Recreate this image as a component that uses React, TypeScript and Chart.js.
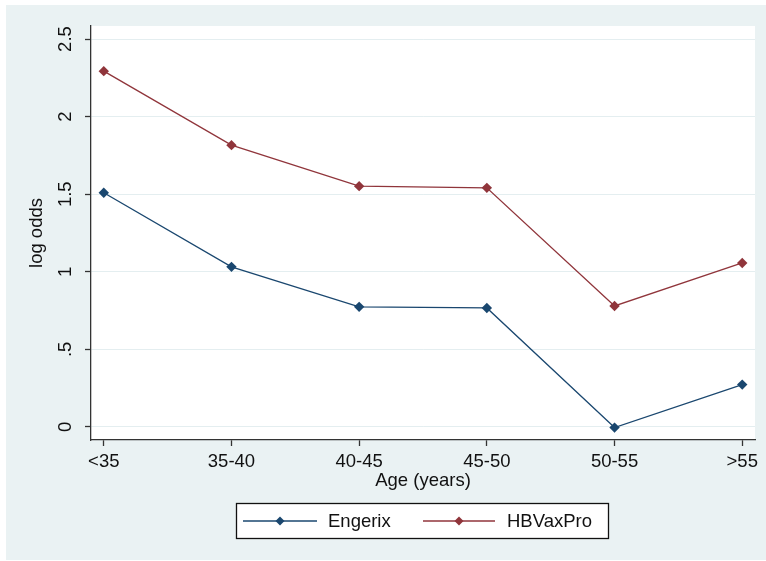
import React, { useEffect, useRef } from "react";
import { Chart, registerables } from "chart.js";
Chart.register(...registerables);

const ageGroups = ["<35", "35-40", "40-45", "45-50", "50-55", ">55"];
const engerix = [1.509, 1.032, 0.774, 0.767, -0.004, 0.273];
const hbvaxpro = [2.293, 1.816, 1.552, 1.541, 0.78, 1.057];
const yTickValues = [0, 0.5, 1, 1.5, 2, 2.5];
const yTickLabels = ["0", ".5", "1", "1.5", "2", "2.5"];
const seriesNames = ["Engerix", "HBVaxPro"];
const seriesColors = ["#1a476f", "#90353b"];

const FONT = "'Liberation Sans', Arial, sans-serif";
const TEXT = "#111111";
const BG = "#eaf2f3";

function diamond(ctx: CanvasRenderingContext2D, x: number, y: number, r: number, color: string) {
  ctx.beginPath();
  ctx.moveTo(x, y - r);
  ctx.lineTo(x + r, y);
  ctx.lineTo(x, y + r);
  ctx.lineTo(x - r, y);
  ctx.closePath();
  ctx.fillStyle = color;
  ctx.fill();
}

const stataPlugin = {
  id: "stataFrame",
  beforeDraw(chart: any) {
    const { ctx, chartArea: a } = chart;
    ctx.save();
    ctx.fillStyle = "#ffffff";
    ctx.fillRect(0, 0, chart.width, chart.height);
    ctx.fillStyle = BG;
    ctx.fillRect(6, 5, chart.width - 6, chart.height - 6);
    ctx.fillStyle = "#ffffff";
    ctx.fillRect(a.left, a.top, a.right - a.left, a.bottom - a.top);
    ctx.restore();
  },
  afterDraw(chart: any) {
    const { ctx } = chart;
    ctx.save();
    const bx = 236.5, by = 503.5, bw = 372, bh = 35;
    ctx.fillStyle = "#ffffff";
    ctx.fillRect(bx, by, bw, bh);
    ctx.strokeStyle = "#111111";
    ctx.lineWidth = 1.3;
    ctx.strokeRect(bx, by, bw, bh);
    const cy = by + bh / 2;
    const items = [
      { x0: 243, x1: 317, text: 328 },
      { x0: 423, x1: 495, text: 507 },
    ];
    items.forEach((it, i) => {
      ctx.strokeStyle = seriesColors[i];
      ctx.lineWidth = 1.3;
      ctx.beginPath();
      ctx.moveTo(it.x0, cy);
      ctx.lineTo(it.x1, cy);
      ctx.stroke();
      diamond(ctx, (it.x0 + it.x1) / 2, cy, 4.5, seriesColors[i]);
      ctx.fillStyle = TEXT;
      ctx.font = `18.5px ${FONT}`;
      ctx.textBaseline = "middle";
      ctx.textAlign = "left";
      ctx.fillText(seriesNames[i], it.text, cy + 1);
    });
    ctx.restore();
  },
};

export default function App() {
  const ref = useRef<HTMLCanvasElement | null>(null);
  useEffect(() => {
    const canvas = ref.current;
    if (!canvas) return;
    const mk = (vals: number[], i: number) => ({
      label: seriesNames[i],
      data: vals.map((v, k) => ({ x: k, y: v })),
      borderColor: seriesColors[i],
      backgroundColor: seriesColors[i],
      borderWidth: 1.3,
      pointStyle: "rectRot" as const,
      pointRadius: 5.2,
      pointBorderWidth: 0,
      pointBackgroundColor: seriesColors[i],
      tension: 0,
    });
    const chart = new Chart(canvas, {
      type: "line",
      data: { datasets: [mk(engerix, 0), mk(hbvaxpro, 1)] },
      options: {
        responsive: false,
        animation: false,
        devicePixelRatio: 1,
        layout: { padding: { top: 26, right: 11, left: 0, bottom: 0 } },
        plugins: { legend: { display: false }, tooltip: { enabled: false } },
        scales: {
          x: {
            type: "linear",
            min: -0.1,
            max: 5.1,
            afterFit: (s: any) => { s.height = 121; },
            afterBuildTicks: (s: any) => { s.ticks = ageGroups.map((_, k) => ({ value: k })); },
            grid: { drawOnChartArea: false, drawTicks: true, tickLength: 6, tickColor: "#333333", tickWidth: 1.3 },
            border: { color: "#333333", width: 1.3 },
            ticks: {
              autoSkip: false,
              maxRotation: 0,
              minRotation: 0,
              padding: 5,
              color: TEXT,
              font: { family: FONT, size: 18.5 },
              callback: (v: any) => ageGroups[Math.round(Number(v))] ?? "",
            },
            title: {
              display: true,
              text: "Age (years)",
              color: TEXT,
              font: { family: FONT, size: 18.5 },
              padding: { top: 0, bottom: 69 },
            },
          },
          y: {
            type: "linear",
            min: -0.084,
            max: 2.584,
            afterFit: (s: any) => { s.width = 91; },
            afterBuildTicks: (s: any) => { s.ticks = yTickValues.map((v) => ({ value: v })); },
            grid: { color: "#e4eef0", lineWidth: 1, drawTicks: true, tickLength: 6, tickColor: "#333333", tickWidth: 1.3 },
            border: { color: "#333333", width: 1.3 },
            ticks: {
              autoSkip: false,
              minRotation: 90,
              maxRotation: 90,
              crossAlign: "center",
              padding: 6,
              color: TEXT,
              font: { family: FONT, size: 18.5 },
              callback: (_v: any, idx: number) => yTickLabels[idx],
            },
            title: {
              display: true,
              text: "log odds",
              color: TEXT,
              font: { family: FONT, size: 18.5 },
              padding: { top: 26, bottom: 0 },
            },
          },
        },
      },
      plugins: [stataPlugin],
    });
    return () => chart.destroy();
  }, []);
  return (
    <div style={{ position: "absolute", left: 0, top: 0, width: 766, height: 561 }}>
      <canvas ref={ref} width={766} height={561} style={{ display: "block", width: 766, height: 561 }} />
    </div>
  );
}
